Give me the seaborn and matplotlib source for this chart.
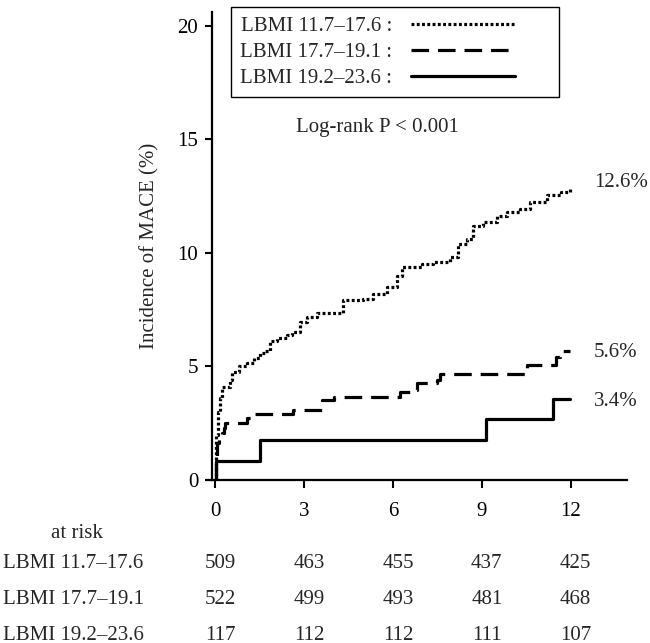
import matplotlib
matplotlib.use('Agg')
import matplotlib.pyplot as plt
import matplotlib.transforms as mtransforms
import seaborn as sns
import pandas as pd

# cumulative incidence of MACE (%), step-post
low_t = [0, 0.02, 0.05, 0.1, 0.17, 0.25, 0.5, 0.56, 0.8, 1.07, 1.3, 1.52, 1.7, 1.85,
         2.1, 2.42, 2.6, 2.87, 3.09, 3.43, 4.33, 5.0, 5.34, 5.79, 6.13, 6.3, 7.0,
         7.36, 7.93, 8.21, 8.49, 8.71, 9.05, 9.5, 9.84, 10.29, 10.62, 11.19, 11.69, 11.97]
low_y = [0, 1.0, 2.0, 3.0, 3.6, 4.1, 4.4, 4.76, 5.0, 5.13, 5.35, 5.57, 5.7, 6.1,
         6.25, 6.37, 6.52, 6.96, 7.18, 7.33, 7.91, 7.98, 8.2, 8.5, 9.0, 9.38, 9.5,
         9.6, 9.82, 10.4, 10.62, 11.2, 11.35, 11.6, 11.8, 11.94, 12.24, 12.53, 12.67, 12.82]

mid_t = [0, 0.03, 0.06, 0.15, 0.22, 0.3, 0.34, 1.07, 1.35, 2.64, 3.6, 4.0, 6.24, 6.7,
         6.8, 7.48, 7.59, 10.51, 11.52, 11.64, 11.97]
mid_y = [0, 1.0, 1.61, 1.9, 2.05, 2.3, 2.49, 2.71, 2.89, 3.08, 3.52, 3.66, 3.88, 3.96,
         4.25, 4.4, 4.66, 5.05, 5.42, 5.68, 5.68]

high_t = [0, 0.05, 1.52, 9.14, 11.39, 11.97]
high_y = [0, 0.85, 1.76, 2.67, 3.55, 3.55]

groups = ['LBMI 11.7\u201317.6', 'LBMI 17.7\u201319.1', 'LBMI 19.2\u201323.6']
end_labels = ['12.6%', '5.6%', '3.4%']

risk_times = [0, 3, 6, 9, 12]
risk_low = [509, 463, 455, 437, 425]
risk_mid = [522, 499, 493, 481, 468]
risk_high = [117, 112, 112, 111, 107]

sns.set_style('ticks')
plt.rcParams['font.family'] = ['Liberation Serif', 'DejaVu Serif']
plt.rcParams['font.size'] = 15

fig = plt.figure(figsize=(6.5, 6.43), dpi=100)
ax = fig.add_axes([207 / 650, 163 / 643, 420 / 650, 468 / 643])

curves = [(low_t, low_y, (0, (0.9, 0.75))),
          (mid_t, mid_y, (0, (5.5, 2.8))),
          (high_t, high_y, '-')]
for name, (t, y, ls) in zip(groups, curves):
    df = pd.DataFrame({'time': t, 'inc': y})
    sns.lineplot(data=df, x='time', y='inc', ax=ax, color='black', lw=2.3,
                 linestyle=ls, drawstyle='steps-post', estimator=None, sort=False,
                 label=name + ' :')

ax.set_xlim(-0.27, 13.9)
ax.set_ylim(0, 20.6)
ax.set_xticks(risk_times)
ax.set_yticks([0, 5, 10, 15, 20])
ax.spines['top'].set_visible(False)
ax.spines['right'].set_visible(False)
ax.spines['left'].set_position(('data', -0.1))
for s in ['left', 'bottom']:
    ax.spines[s].set_linewidth(1.6)
    ax.spines[s].set_color('black')
ax.tick_params(axis='x', length=6, width=1.5, pad=9.5, labelsize=15, colors='black')
ax.tick_params(axis='y', length=5, width=1.5, pad=5, labelsize=15, colors='black')
ax.set_xlabel('')
ax.set_ylabel('Incidence of MACE (%)', fontsize=15, labelpad=13)

leg = ax.legend(loc='upper left', bbox_to_anchor=(0.057, 1.01, 0.781, 0.0), mode='expand',
                borderaxespad=0, markerfirst=False, fancybox=False, edgecolor='black',
                framealpha=1, handlelength=5, labelspacing=0.3, handletextpad=0.9,
                borderpad=0.45, fontsize=15)
leg.get_frame().set_linewidth(1.0)

ax.text(5.47, 15.5, 'Log-rank P < 0.001', ha='center', va='center', fontsize=15)
for lab, yv in zip(end_labels, [13.1, 5.6, 3.44]):
    ax.text(12.78, yv, lab, ha='left', va='center', fontsize=15, clip_on=False)

# numbers at risk under the axis
trans = mtransforms.blended_transform_factory(ax.transData, fig.transFigure)
fig.text(77 / 650, 1 - 533 / 643, 'at risk', ha='center', va='center', fontsize=15)
row_y = [563, 599, 635]
for name, counts, py in zip(groups, [risk_low, risk_mid, risk_high], row_y):
    fig.text(3 / 650, 1 - py / 643, name, ha='left', va='center', fontsize=15)
    for tt, n in zip(risk_times, counts):
        ax.text(tt + 0.17, 1 - py / 643, str(n), transform=trans, ha='center',
                va='center', fontsize=15)

fig.savefig('out.png', dpi=100)
